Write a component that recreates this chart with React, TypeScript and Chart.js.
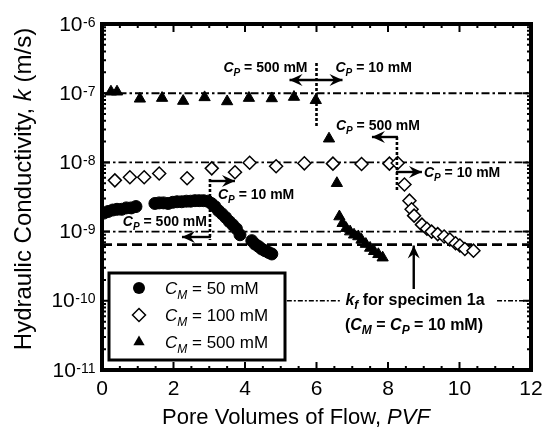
import React, { useEffect, useRef } from 'react';
import { Chart, registerables } from 'chart.js';
Chart.register(...registerables);

// ---- data ----
const pvf50 = [0.05, 0.17, 0.3, 0.42, 0.55, 0.68, 0.82, 0.95, 1.48, 1.6, 1.72, 1.85, 1.98, 2.1, 2.23, 2.36, 2.48, 2.6, 2.72, 2.84, 2.96, 3.06, 3.16, 3.26, 3.36, 3.46, 3.56, 3.66, 3.76, 3.86, 4.19, 4.28, 4.38, 4.47, 4.56, 4.66, 4.75];
const k50 = [1.85e-9, 1.95e-9, 2.05e-9, 2.1e-9, 2.1e-9, 2.2e-9, 2.2e-9, 2.3e-9, 2.55e-9, 2.6e-9, 2.6e-9, 2.55e-9, 2.65e-9, 2.7e-9, 2.7e-9, 2.75e-9, 2.75e-9, 2.8e-9, 2.8e-9, 2.8e-9, 2.75e-9, 2.55e-9, 2.3e-9, 2.0e-9, 1.8e-9, 1.6e-9, 1.4e-9, 1.25e-9, 1.1e-9, 0.9e-9, 7.4e-10, 6.6e-10, 6.1e-10, 5.6e-10, 5.3e-10, 5.0e-10, 4.75e-10];

const pvf100 = [0.36, 0.78, 1.18, 1.6, 2.38, 3.07, 3.72, 4.13, 4.87, 5.66, 6.46, 7.26, 8.04, 8.27, 8.46, 8.6, 8.66, 8.73, 8.95, 9.09, 9.22, 9.39, 9.57, 9.73, 9.89, 10.01, 10.15, 10.39];
const k100 = [5.5e-9, 6.1e-9, 6.1e-9, 6.9e-9, 5.9e-9, 8.2e-9, 7.2e-9, 9.9e-9, 8.8e-9, 9.7e-9, 9.6e-9, 9.5e-9, 9.6e-9, 9.8e-9, 4.8e-9, 2.8e-9, 2.1e-9, 1.7e-9, 1.26e-9, 1.1e-9, 1.0e-9, 9.2e-10, 8.5e-10, 7.7e-10, 6.8e-10, 6.3e-10, 5.6e-10, 5.3e-10];

const pvf500 = [0.25, 0.42, 1.06, 1.68, 2.27, 2.87, 3.5, 4.11, 4.75, 5.37, 5.98, 6.35, 6.57, 6.64, 6.73, 6.83, 6.94, 7.05, 7.17, 7.26, 7.38, 7.5, 7.61, 7.73, 7.85];
const k500 = [1.05e-7, 1.05e-7, 8.3e-8, 8.5e-8, 7.7e-8, 8.7e-8, 7.6e-8, 8.5e-8, 8.4e-8, 8.8e-8, 7.9e-8, 2.2e-8, 5.0e-9, 1.65e-9, 1.32e-9, 1.12e-9, 1.0e-9, 9.0e-10, 8.5e-10, 7.6e-10, 6.6e-10, 5.8e-10, 5.2e-10, 4.7e-10, 4.2e-10];

const xTicks = [0, 2, 4, 6, 8, 10, 12];
const yDecades = [-11, -10, -9, -8, -7, -6];
const refLevels = [1e-7, 1e-8, 1e-9];
const kfLevel = 6.5e-10;
const legendConc = ['50', '100', '500'];
const switchPVF = [6.0, 8.25, 3.02];

const FONT = 'Arial, "Liberation Sans", Helvetica, sans-serif';

type Seg = { t: string; italic?: boolean; sub?: boolean };

function segFont(s: Seg, size: number, bold: boolean) {
  const sz = s.sub ? Math.round(size * 0.72) : size;
  return `${s.italic ? 'italic ' : ''}${bold ? 'bold ' : ''}${sz}px ${FONT}`;
}
function richWidth(ctx: CanvasRenderingContext2D, segs: Seg[], size: number, bold: boolean) {
  let w = 0;
  for (const s of segs) {
    ctx.font = segFont(s, size, bold);
    w += ctx.measureText(s.t).width;
  }
  return w;
}
function drawRich(ctx: CanvasRenderingContext2D, segs: Seg[], x: number, y: number, size: number, bold: boolean, align: 'left' | 'center' | 'right' = 'left') {
  const w = richWidth(ctx, segs, size, bold);
  let cx = align === 'center' ? x - w / 2 : align === 'right' ? x - w : x;
  ctx.textAlign = 'left';
  ctx.textBaseline = 'alphabetic';
  ctx.fillStyle = '#000';
  for (const s of segs) {
    ctx.font = segFont(s, size, bold);
    ctx.fillText(s.t, cx, s.sub ? y + size * 0.27 : y);
    cx += ctx.measureText(s.t).width;
  }
}
function head(ctx: CanvasRenderingContext2D, x1: number, y1: number, x2: number, y2: number, hl = 13, hw = 6) {
  const a = Math.atan2(y2 - y1, x2 - x1);
  const dx = Math.cos(a), dy = Math.sin(a);
  const px = -dy, py = dx;
  ctx.beginPath();
  ctx.moveTo(x2, y2);
  ctx.lineTo(x2 - dx * hl + px * hw, y2 - dy * hl + py * hw);
  ctx.lineTo(x2 - dx * hl * 0.65, y2 - dy * hl * 0.65);
  ctx.lineTo(x2 - dx * hl - px * hw, y2 - dy * hl - py * hw);
  ctx.closePath();
  ctx.fill();
}
function arrow(ctx: CanvasRenderingContext2D, x1: number, y1: number, x2: number, y2: number, lw = 2.4, both = false) {
  ctx.save();
  ctx.setLineDash([]);
  ctx.strokeStyle = '#000';
  ctx.fillStyle = '#000';
  ctx.lineWidth = lw;
  ctx.beginPath();
  ctx.moveTo(x1, y1);
  ctx.lineTo(x2, y2);
  ctx.stroke();
  head(ctx, x1, y1, x2, y2);
  if (both) head(ctx, x2, y2, x1, y1);
  ctx.restore();
}
function vdots(ctx: CanvasRenderingContext2D, x: number, y1: number, y2: number) {
  ctx.save();
  ctx.strokeStyle = '#000';
  ctx.lineWidth = 2.6;
  ctx.setLineDash([3, 2]);
  ctx.beginPath();
  ctx.moveTo(x, y1);
  ctx.lineTo(x, y2);
  ctx.stroke();
  ctx.restore();
}
function hline(ctx: CanvasRenderingContext2D, x1: number, x2: number, y: number, dash: number[], lw: number) {
  ctx.save();
  ctx.strokeStyle = '#000';
  ctx.lineWidth = lw;
  ctx.setLineDash(dash);
  ctx.beginPath();
  ctx.moveTo(x1, y);
  ctx.lineTo(x2, y);
  ctx.stroke();
  ctx.restore();
}

const cp = (v: string): Seg[] => [{ t: 'C', italic: true }, { t: 'P', italic: true, sub: true }, { t: ` = ${v} mM` }];

const decorPlugin = {
  id: 'decor',
  beforeDatasetsDraw(chart: any) {
    const ctx = chart.ctx as CanvasRenderingContext2D;
    const a = chart.chartArea;
    const xs = chart.scales.x, ys = chart.scales.y;
    const dashDot = [8, 3, 2.5, 3];
    for (const lv of refLevels) hline(ctx, a.left, a.right, ys.getPixelForValue(lv), dashDot, 1.9);
    hline(ctx, a.left, a.right, ys.getPixelForValue(kfLevel), [10, 5], 2.7);
    const y10 = ys.getPixelForValue(1e-10);
    hline(ctx, xs.getPixelForValue(5.17), xs.getPixelForValue(6.66), y10, [5, 2, 2, 2], 1.6);
    hline(ctx, xs.getPixelForValue(11.05), a.right, y10, [5, 2, 2, 2], 1.6);
  },
  afterDatasetsDraw(chart: any) {
    const ctx = chart.ctx as CanvasRenderingContext2D;
    const a = chart.chartArea;
    const xs = chart.scales.x, ys = chart.scales.y;
    const fs = 14;

    // switch 1 (PVF ~ 6)
    const s1 = xs.getPixelForValue(switchPVF[0]);
    vdots(ctx, s1, 63, 127);
    arrow(ctx, s1 - 27, 80, s1 + 26, 80, 2.4, true);
    drawRich(ctx, cp('500'), s1 - 9, 72, fs, true, 'right');
    drawRich(ctx, cp('10'), s1 + 19, 72, fs, true, 'left');

    // switch 2 (PVF ~ 8.25)
    const s2 = xs.getPixelForValue(switchPVF[1]);
    vdots(ctx, s2, 137, 192);
    arrow(ctx, s2 + 1, 137, s2 - 25, 137);
    arrow(ctx, s2 - 1, 172, s2 + 25, 172);
    drawRich(ctx, cp('500'), s2 - 19, 130, fs, true, 'center');
    drawRich(ctx, cp('10'), s2 + 27, 177, fs, true, 'left');

    // switch 3 (PVF ~ 3)
    const s3 = xs.getPixelForValue(switchPVF[2]);
    vdots(ctx, s3, 179, 240);
    arrow(ctx, s3 - 1, 181, s3 + 25, 181);
    arrow(ctx, s3 + 1, 237, s3 - 28, 237);
    drawRich(ctx, cp('10'), s3 + 8, 199, fs, true, 'left');
    drawRich(ctx, cp('500'), s3 - 3, 226, fs, true, 'right');

    // k_f arrow and label
    const kx = xs.getPixelForValue(8.72);
    const kfy = ys.getPixelForValue(kfLevel);
    arrow(ctx, kx, 289, kx, kfy + 1, 2.4);
    drawRich(ctx, [{ t: 'k', italic: true }, { t: 'f', italic: true, sub: true }, { t: ' for specimen 1a' }], 415, 305, 16, true, 'center');
    drawRich(ctx, [{ t: '(' }, { t: 'C', italic: true }, { t: 'M', italic: true, sub: true }, { t: ' = ' }, { t: 'C', italic: true }, { t: 'P', italic: true, sub: true }, { t: ' = 10 mM)' }], 414, 330, 16, true, 'center');

    // legend box
    const lx = 109, ly = 273, lw = 176, lh = 87;
    ctx.save();
    ctx.setLineDash([]);
    ctx.fillStyle = '#fff';
    ctx.fillRect(lx, ly, lw, lh);
    ctx.strokeStyle = '#000';
    ctx.lineWidth = 3;
    ctx.strokeRect(lx, ly, lw, lh);
    const mx = 139;
    const rows = [288, 315, 342];
    ctx.fillStyle = '#000';
    ctx.beginPath();
    ctx.arc(mx, rows[0], 6, 0, Math.PI * 2);
    ctx.fill();
    ctx.fillStyle = '#fff';
    ctx.lineWidth = 1.5;
    ctx.beginPath();
    ctx.moveTo(mx, rows[1] - 6.5);
    ctx.lineTo(mx + 6.5, rows[1]);
    ctx.lineTo(mx, rows[1] + 6.5);
    ctx.lineTo(mx - 6.5, rows[1]);
    ctx.closePath();
    ctx.fill();
    ctx.stroke();
    const r = 6.5;
    ctx.fillStyle = '#000';
    ctx.beginPath();
    ctx.moveTo(mx, rows[2] - r);
    ctx.lineTo(mx + r * 0.866, rows[2] + r / 2);
    ctx.lineTo(mx - r * 0.866, rows[2] + r / 2);
    ctx.closePath();
    ctx.fill();
    ctx.restore();
    legendConc.forEach((c, i) => {
      drawRich(ctx, [{ t: 'C', italic: true }, { t: 'M', italic: true, sub: true }, { t: ` = ${c} mM` }], 165, rows[i] + 6, 17, false, 'left');
    });

    // ticks (inward, all sides)
    ctx.save();
    ctx.setLineDash([]);
    ctx.strokeStyle = '#000';
    ctx.lineWidth = 2;
    ctx.beginPath();
    for (let v = 0; v <= 12.001; v += 0.5) {
      const px = xs.getPixelForValue(v);
      const major = Math.abs(v / 2 - Math.round(v / 2)) < 1e-6;
      const L = major ? 8 : 4;
      ctx.moveTo(px, a.bottom); ctx.lineTo(px, a.bottom - L);
      ctx.moveTo(px, a.top); ctx.lineTo(px, a.top + L);
    }
    for (const d of yDecades) {
      const py = ys.getPixelForValue(Math.pow(10, d));
      ctx.moveTo(a.left, py); ctx.lineTo(a.left + 8, py);
      ctx.moveTo(a.right, py); ctx.lineTo(a.right - 8, py);
      if (d < -6) {
        for (let m = 2; m <= 9; m++) {
          const pm = ys.getPixelForValue(m * Math.pow(10, d));
          ctx.moveTo(a.left, pm); ctx.lineTo(a.left + 4, pm);
          ctx.moveTo(a.right, pm); ctx.lineTo(a.right - 4, pm);
        }
      }
    }
    ctx.stroke();
    ctx.lineWidth = 4;
    ctx.strokeRect(a.left, a.top, a.right - a.left, a.bottom - a.top);
    ctx.restore();

    // tick labels
    ctx.save();
    ctx.fillStyle = '#000';
    ctx.textBaseline = 'alphabetic';
    for (const d of yDecades) {
      const py = ys.getPixelForValue(Math.pow(10, d));
      ctx.font = `21px ${FONT}`;
      const w1 = ctx.measureText('10').width;
      ctx.font = `14px ${FONT}`;
      const sup = String(d);
      const w2 = ctx.measureText(sup).width;
      const x0 = 95 - w1 - w2;
      ctx.textAlign = 'left';
      ctx.font = `21px ${FONT}`;
      ctx.fillText('10', x0, py + 6.5);
      ctx.font = `14px ${FONT}`;
      ctx.fillText(sup, x0 + w1 + 0.5, py + 2.5);
    }
    ctx.font = `21px ${FONT}`;
    ctx.textAlign = 'center';
    for (const t of xTicks) {
      ctx.fillText(String(t), xs.getPixelForValue(t), 395);
    }
    ctx.restore();

    // axis titles
    drawRich(ctx, [{ t: 'Pore Volumes of Flow, ' }, { t: 'PVF', italic: true }], 296, 424, 22, false, 'center');
    ctx.save();
    ctx.translate(31, 189);
    ctx.rotate(-Math.PI / 2);
    drawRich(ctx, [{ t: 'Hydraulic Conductivity, ' }, { t: 'k', italic: true }, { t: ' (m/s)' }], 0, 0, 24, false, 'center');
    ctx.restore();
  },
};

export default function App() {
  const ref = useRef<HTMLCanvasElement | null>(null);
  useEffect(() => {
    if (!ref.current) return;
    const mk = (xs: number[], ys: number[]) => xs.map((x, i) => ({ x, y: ys[i] }));
    const chart = new Chart(ref.current, {
      type: 'scatter',
      data: {
        datasets: [
          { label: '50 mM', data: mk(pvf50, k50), pointStyle: 'circle', pointRadius: 6, backgroundColor: '#000', borderColor: '#000', borderWidth: 1 },
          { label: '100 mM', data: mk(pvf100, k100), pointStyle: 'rectRot', pointRadius: 6.5, backgroundColor: '#fff', borderColor: '#000', borderWidth: 1.5 },
          { label: '500 mM', data: mk(pvf500, k500), pointStyle: 'triangle', pointRadius: 6.5, backgroundColor: '#000', borderColor: '#000', borderWidth: 1 },
        ],
      },
      options: {
        animation: false,
        responsive: false,
        layout: { padding: { top: 24, right: 11, left: 0, bottom: 0 } },
        plugins: { legend: { display: false }, tooltip: { enabled: false } },
        scales: {
          x: {
            type: 'linear', min: 0, max: 12,
            ticks: { display: false },
            grid: { display: false, drawTicks: false },
            border: { display: false },
            afterFit: (s: any) => { s.height = 59; },
          },
          y: {
            type: 'logarithmic', min: 1e-11, max: 1e-6,
            ticks: { display: false },
            grid: { display: false, drawTicks: false },
            border: { display: false },
            afterFit: (s: any) => { s.width = 102; },
          },
        },
      },
      plugins: [decorPlugin],
    } as any);
    return () => chart.destroy();
  }, []);
  return (
    <div style={{ position: 'absolute', left: 0, top: 0, width: 542, height: 429, background: '#fff' }}>
      <canvas ref={ref} width={542} height={429} style={{ width: 542, height: 429 }} />
    </div>
  );
}
